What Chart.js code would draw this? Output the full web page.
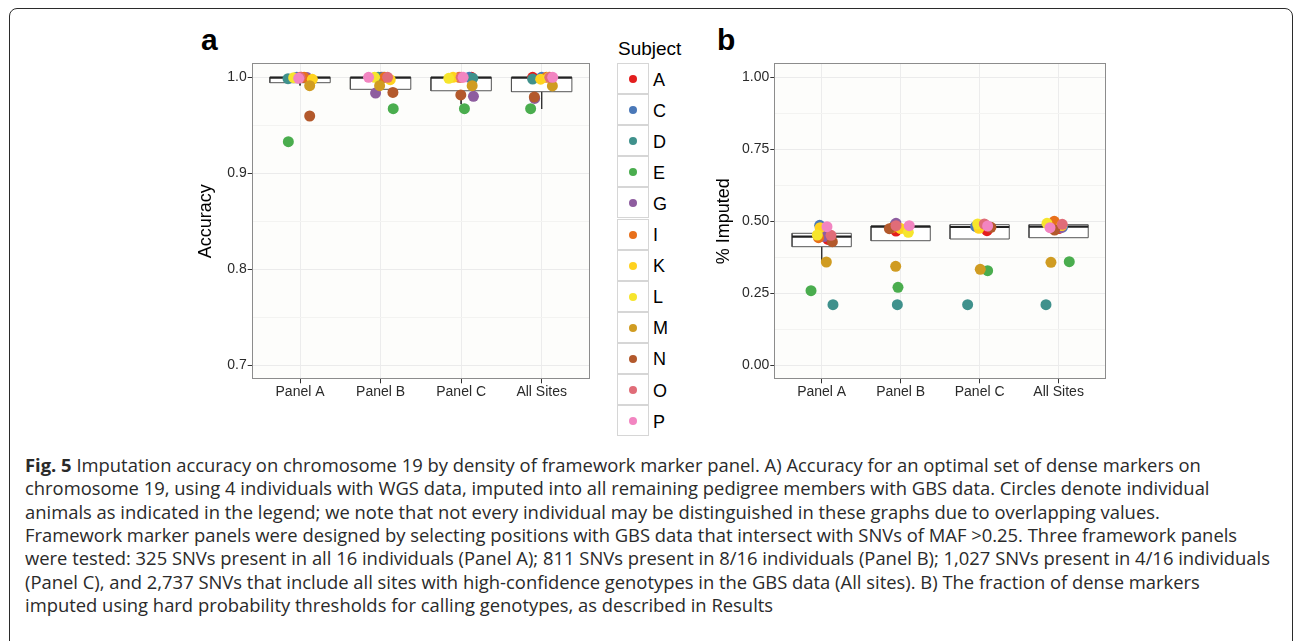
<!DOCTYPE html>
<html>
<head>
<meta charset="utf-8">
<title>Fig. 5</title>
<script src="https://cdn.jsdelivr.net/npm/chart.js@4.4.1/dist/chart.umd.min.js"></script>
<style>
  html, body { margin: 0; padding: 0; background: #fff; }
  body { width: 1293px; height: 641px; position: relative; overflow: hidden; font-family: "Liberation Sans", Arial, sans-serif; }
  #frame { position: absolute; left: 9px; top: 8px; width: 1284px; height: 700px; border: 1.5px solid #2b2b2b; border-radius: 8px; box-sizing: border-box; }
  canvas { position: absolute; }
  .tag { position: absolute; font-weight: bold; font-size: 30px; line-height: 1; color: #000; }
  #legendTitle { position: absolute; left: 618px; top: 39px; font-size: 19px; line-height: 1; color: #000; }
  .key { position: absolute; left: 617px; width: 32px; height: 31px; box-sizing: border-box; border: 1px solid #d6d6d6; background: #fff; }
  .key i { position: absolute; left: 11px; top: 11px; width: 8px; height: 8px; border-radius: 50%; }
  .keyLabel { position: absolute; left: 653px; font-size: 18px; line-height: 1; color: #000; }
  #caption { position: absolute; left: 25px; top: 454px; font-family: "Open Sans", sans-serif; font-size: 17.5px; line-height: 23.33px; color: #2a2a2a; white-space: nowrap; transform-origin: 0 0; }
  #caption div { height: 23.33px; }
</style>
</head>
<body>
<div id="frame"></div>
<div class="tag" style="left:201px; top:25px;">a</div>
<div class="tag" style="left:717px; top:25px;">b</div>
<canvas id="chartA" width="410" height="356" style="left:190px; top:50px;"></canvas>
<canvas id="chartB" width="416" height="356" style="left:700px; top:50px;"></canvas>
<div id="legendTitle">Subject</div>
<div id="legend"></div>
<div id="caption">
  <div><span><b>Fig. 5</b> Imputation accuracy on chromosome 19 by density of framework marker panel. A) Accuracy for an optimal set of dense markers on</span></div>
  <div><span>chromosome 19, using 4 individuals with WGS data, imputed into all remaining pedigree members with GBS data. Circles denote individual</span></div>
  <div><span>animals as indicated in the legend; we note that not every individual may be distinguished in these graphs due to overlapping values.</span></div>
  <div><span>Framework marker panels were designed by selecting positions with GBS data that intersect with SNVs of MAF &gt;0.25. Three framework panels</span></div>
  <div><span id="capRef">were tested: 325 SNVs present in all 16 individuals (Panel A); 811 SNVs present in 8/16 individuals (Panel B); 1,027 SNVs present in 4/16 individuals</span></div>
  <div><span>(Panel C), and 2,737 SNVs that include all sites with high-confidence genotypes in the GBS data (All sites). B) The fraction of dense markers</span></div>
  <div><span>imputed using hard probability thresholds for calling genotypes, as described in Results</span></div>
</div>
<script>
// categories and subjects
var categories = ['Panel A', 'Panel B', 'Panel C', 'All Sites'];
var subjects = ['A', 'C', 'D', 'E', 'G', 'I', 'K', 'L', 'M', 'N', 'O', 'P'];
var subjectColors = ['#e31e1e', '#4a78b8', '#3f918c', '#4aad4e', '#8e5d9f', '#e8701b',
                     '#ffd21f', '#f6e52d', '#d09c22', '#b3592c', '#e06c78', '#f285c1'];

// panel a: accuracy per subject (same order as subjects), one array per category
var accPanelA   = [1.000, 1.000, 0.9986, 0.933, 0.9997, 1.000, 0.9979, 0.9996, 0.9913, 0.9597, 1.000, 0.999];
var accPanelB   = [1.000, 1.000, 1.000, 0.9673, 0.9836, 1.000, 0.9975, 1.000, 0.9913, 0.9843, 1.000, 1.000];
var accPanelC   = [1.000, 1.000, 0.999, 0.9673, 0.9802, 1.000, 1.000, 0.999, 0.9913, 0.9816, 1.000, 1.000];
var accAllSites = [1.000, 1.000, 0.9982, 0.9673, 0.978, 1.000, 0.998, 1.000, 0.991, 0.9795, 1.000, 1.000];
// horizontal jitter (category units)
var accJitA   = [0.017, -0.04, -0.149, -0.145, 0.087, 0.05, 0.153, -0.079, 0.12, 0.12, 0.0, -0.017];
var accJitB   = [0.008, 0.03, -0.03, 0.157, -0.062, 0.05, 0.12, -0.075, -0.012, 0.153, 0.087, -0.149];
var accJitC   = [0.128, 0.1, 0.145, 0.041, 0.153, -0.025, -0.1, -0.153, 0.137, -0.004, 0.0, 0.025];
var accJitAll = [-0.112, 0.0, -0.112, -0.137, -0.087, 0.06, -0.012, 0.09, 0.133, -0.091, 0.1, 0.137];

// panel a boxes
var accQ1  = [0.9944, 0.9875, 0.986, 0.985];
var accMed = [0.9997, 0.9997, 0.9997, 0.9997];
var accQ3  = [1.0, 1.0, 1.0, 1.0];
var accLo  = [0.9915, 0.9875, 0.972, 0.967];
var accHi  = [1.0, 1.0, 1.0, 1.0];

// panel b: fraction imputed
var impPanelA   = [0.437, 0.4861, 0.2104, 0.259, 0.447, 0.443, 0.478, 0.4524, 0.3587, 0.4292, 0.4514, 0.4813];
var impPanelB   = [0.4663, 0.4885, 0.2104, 0.2708, 0.4931, 0.478, 0.475, 0.4618, 0.3437, 0.4743, 0.4847, 0.4847];
var impPanelC   = [0.4674, 0.482, 0.2104, 0.3285, 0.489, 0.485, 0.4757, 0.4906, 0.3333, 0.479, 0.4906, 0.4837];
var impAllSites = [0.475, 0.48, 0.2104, 0.3597, 0.478, 0.500, 0.485, 0.4931, 0.3576, 0.4698, 0.4896, 0.4778];
var impJitA   = [0.08, -0.025, 0.143, -0.135, 0.03, -0.04, -0.02, -0.055, 0.059, 0.135, 0.118, 0.067];
var impJitB   = [-0.059, -0.07, -0.042, -0.034, -0.059, -0.1, 0.0, 0.097, -0.063, -0.143, -0.059, 0.109];
var impJitC   = [0.093, -0.05, -0.152, 0.101, 0.06, 0.0, -0.008, -0.025, 0.008, 0.143, 0.059, 0.101];
var impJitAll = [0.0, 0.05, -0.16, 0.135, 0.03, -0.055, 0.04, -0.147, -0.097, -0.051, 0.046, -0.109];

var impQ1  = [0.4118, 0.4326, 0.4385, 0.443];
var impMed = [0.4465, 0.4813, 0.4802, 0.4813];
var impQ3  = [0.4583, 0.4837, 0.4882, 0.4882];
var impLo  = [0.358, 0.4326, 0.4385, 0.443];
var impHi  = [0.487, 0.4931, 0.4906, 0.500];

// axis ticks
var accTicks = [0.7, 0.8, 0.9, 1.0];
var accTickLabels = ['0.7', '0.8', '0.9', '1.0'];
var accMinor = [0.75, 0.85, 0.95];
var impTicks = [0.0, 0.25, 0.5, 0.75, 1.0];
var impTickLabels = ['0.00', '0.25', '0.50', '0.75', '1.00'];
var impMinor = [0.125, 0.375, 0.625, 0.875];

var boxHalf = 0.375;
var tickFont = { family: '"Liberation Sans", Arial, sans-serif', size: 14 };

// html legend
var legend = document.getElementById('legend');
for (var k = 0; k < subjects.length; k++) {
  var keyTop = 63 + k * 31.1;
  var key = document.createElement('div');
  key.className = 'key';
  key.style.top = keyTop + 'px';
  key.innerHTML = '<i style="background:' + subjectColors[k] + '"></i>';
  legend.appendChild(key);
  var lab = document.createElement('div');
  lab.className = 'keyLabel';
  lab.style.top = (keyTop + 7.5) + 'px';
  lab.textContent = subjects[k];
  legend.appendChild(lab);
}

// plot panel background + border
var panelFrame = {
  id: 'panelFrame',
  beforeDraw: function (chart) {
    var a = chart.chartArea, ctx = chart.ctx;
    ctx.save();
    ctx.fillStyle = '#fdfdfb';
    ctx.fillRect(a.left, a.top, a.right - a.left, a.bottom - a.top);
    ctx.restore();
  },
  afterDraw: function (chart) {
    var a = chart.chartArea, ctx = chart.ctx;
    ctx.save();
    ctx.strokeStyle = '#8c8c8c';
    ctx.lineWidth = 1;
    ctx.strokeRect(Math.round(a.left) + 0.5, Math.round(a.top) + 0.5,
      Math.round(a.right - a.left) - 1, Math.round(a.bottom - a.top) - 1);
    ctx.restore();
  }
};

function lineSet(points, width, color, fillColor) {
  return {
    data: points, showLine: true, pointRadius: 0, borderColor: color, borderWidth: width,
    fill: fillColor ? 'shape' : false, backgroundColor: fillColor || 'transparent', order: 100
  };
}

function boxSets(q1, med, q3, lo, hi) {
  var sets = [];
  for (var i = 0; i < categories.length; i++) {
    var l = i - boxHalf, r = i + boxHalf;
    sets.push(lineSet([{ x: l, y: med[i] }, { x: r, y: med[i] }], 2.2, '#222'));
    sets.push(lineSet([{ x: l, y: q1[i] }, { x: r, y: q1[i] }, { x: r, y: q3[i] }, { x: l, y: q3[i] }, { x: l, y: q1[i] }], 1, '#555', '#ffffff'));
    sets.push(lineSet([{ x: i, y: q3[i] }, { x: i, y: hi[i] }], 1, '#333'));
    sets.push(lineSet([{ x: i, y: q1[i] }, { x: i, y: lo[i] }], 1, '#333'));
  }
  return sets;
}

function pointSets(valueCols, jitterCols) {
  var sets = [];
  for (var s = 0; s < subjects.length; s++) {
    var pts = [];
    for (var c = 0; c < categories.length; c++) {
      pts.push({ x: c + jitterCols[c][s], y: valueCols[c][s] });
    }
    sets.push({
      label: subjects[s], data: pts, pointRadius: 5.5, pointBorderWidth: 0,
      pointBackgroundColor: subjectColors[s], backgroundColor: subjectColors[s],
      order: subjects.length - s   // later subjects on top
    });
  }
  return sets;
}

function findTick(list, v) {
  for (var i = 0; i < list.length; i++) if (Math.abs(list[i] - v) < 1e-9) return i;
  return -1;
}

function makeChart(id, cfg) {
  var yTicks = cfg.ticks.concat(cfg.minor).sort(function (a, b) { return a - b; });
  return new Chart(document.getElementById(id), {
    type: 'scatter',
    data: { datasets: boxSets.apply(null, cfg.box).concat(pointSets(cfg.values, cfg.jitter)) },
    plugins: [panelFrame],
    options: {
      responsive: false, animation: false,
      layout: { padding: { top: 13.3, right: 10, bottom: 0, left: 0 } },
      plugins: { legend: { display: false }, tooltip: { enabled: false } },
      scales: {
        x: {
          type: 'linear', min: -0.6, max: 3.6,
          afterBuildTicks: function (s) { s.ticks = categories.map(function (c, i) { return { value: i }; }); },
          afterFit: function (s) { s.height = 26.7; },
          ticks: { callback: function (v) { return categories[v]; }, font: tickFont, color: '#2a2a2a', padding: 0, autoSkip: false, maxRotation: 0 },
          grid: { color: '#ececec', tickColor: '#333', tickLength: 4, lineWidth: 1 },
          border: { display: false }
        },
        y: {
          min: cfg.min, max: cfg.max,
          afterBuildTicks: function (s) { s.ticks = yTicks.map(function (v) { return { value: v }; }); },
          afterFit: function (s) { s.width = cfg.axisWidth; },
          ticks: {
            callback: function (v) { var i = findTick(cfg.ticks, v); return i < 0 ? '' : cfg.labels[i]; },
            font: tickFont, color: '#2a2a2a', padding: 1, autoSkip: false
          },
          grid: {
            color: function (c) { return findTick(cfg.ticks, c.tick.value) < 0 ? '#f3f3f1' : '#ebebeb'; },
            tickColor: function (c) { return findTick(cfg.ticks, c.tick.value) < 0 ? 'rgba(0,0,0,0)' : '#333'; },
            tickLength: 4, lineWidth: 1
          },
          border: { display: false },
          title: { display: true, text: cfg.title, color: '#000', font: { family: '"Liberation Sans", Arial, sans-serif', size: 18 }, padding: { top: cfg.titlePad, bottom: 0 } }
        }
      }
    }
  });
}

makeChart('chartA', {
  values: [accPanelA, accPanelB, accPanelC, accAllSites],
  jitter: [accJitA, accJitB, accJitC, accJitAll],
  box: [accQ1, accMed, accQ3, accLo, accHi],
  ticks: accTicks, labels: accTickLabels, minor: accMinor,
  min: 0.6854, max: 1.0146, axisWidth: 61.7, title: 'Accuracy', titlePad: 5.2
});

makeChart('chartB', {
  values: [impPanelA, impPanelB, impPanelC, impAllSites],
  jitter: [impJitA, impJitB, impJitC, impJitAll],
  box: [impQ1, impMed, impQ3, impLo, impHi],
  ticks: impTicks, labels: impTickLabels, minor: impMinor,
  min: -0.0486, max: 1.0486, axisWidth: 74.3, title: '% Imputed', titlePad: 13.2
});

// squeeze the caption horizontally so the longest line matches the figure
function fitCaption() {
  var cap = document.getElementById('caption');
  cap.style.transform = 'none';
  var w = document.getElementById('capRef').getBoundingClientRect().width;
  cap.style.transform = 'scaleX(' + (1245 / w) + ')';
}
fitCaption();
if (document.fonts && document.fonts.ready) document.fonts.ready.then(fitCaption);
</script>
</body>
</html>
